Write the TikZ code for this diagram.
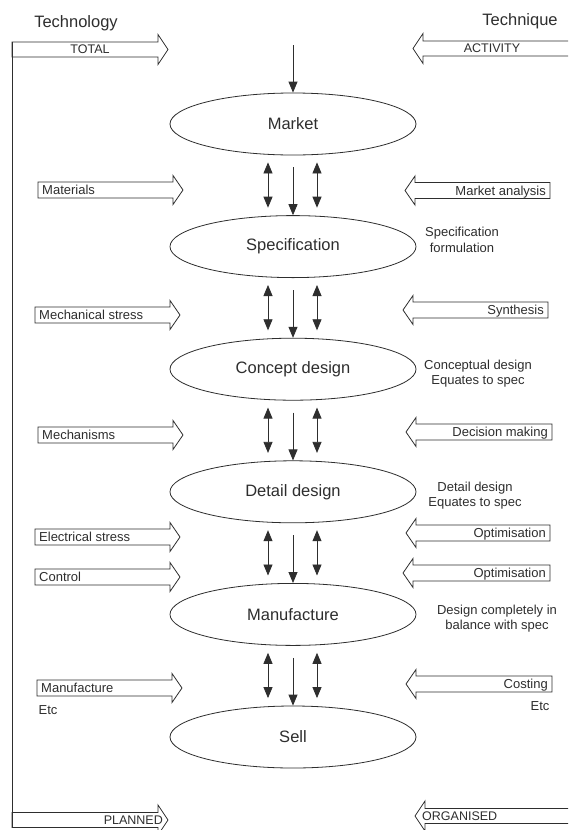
\documentclass[tikz,border=0pt]{standalone}
\usepackage{fontspec}
\setmainfont{Liberation Sans}
\usetikzlibrary{shapes.geometric,arrows.meta}

\definecolor{ink}{HTML}{2E2E2E}

\tikzset{
  stage/.style={ellipse, draw=ink, line width=0.8pt, minimum width=246pt,
    minimum height=62pt, inner sep=0pt, text=ink,
    font=\fontsize{16.5}{19}\selectfont},
  flow/.style={draw=ink, line width=0.8pt, -{Triangle[width=9pt,length=11pt]}},
  twoway/.style={draw=ink, line width=0.8pt,
    {Triangle[width=9pt,length=11pt]}-{Triangle[width=9pt,length=11pt]}},
  blockarrow/.style={draw=ink, line width=0.8pt, line join=miter},
  tag/.style={inner sep=0pt, text=ink, font=\fontsize{13}{15}\selectfont},
  captag/.style={inner sep=0pt, text=ink, font=\fontsize{12.5}{14}\selectfont},
  heading/.style={inner sep=0pt, text=ink, font=\fontsize{16.5}{19}\selectfont},
  note/.style={inner sep=0pt, text=ink, align=center,
    font=\fontsize{13}{15.5}\selectfont},
}

% block arrow pointing right: name, left x, tip x, centre y, label
\newcommand{\blockright}[5]{%
  \draw[blockarrow] (#2,#4-8) -- (#3-10,#4-8) -- (#3-10,#4-14.5) -- (#3,#4)
    -- (#3-10,#4+14.5) -- (#3-10,#4+8) -- (#2,#4+8) -- cycle;
  \node[tag,anchor=base west] (#1) at (#2+4,#4+4.6) {#5};}

% block arrow pointing left: name, right x, tip x, centre y, label
\newcommand{\blockleft}[5]{%
  \draw[blockarrow] (#2,#4-8) -- (#3+10,#4-8) -- (#3+10,#4-14.5) -- (#3,#4)
    -- (#3+10,#4+14.5) -- (#3+10,#4+8) -- (#2,#4+8) -- cycle;
  \node[tag,anchor=base east] (#1) at (#2-4,#4+4.6) {#5};}

\begin{document}
\begin{tikzpicture}[x=1pt,y=-1pt]
\useasboundingbox[fill=white] (0,0) rectangle (568,830);

% headings
\node[heading] (tech) at (76,23) {Technology};
\node[heading] (techq) at (520,21) {Technique};

% frame line on the left
\draw[ink, line width=0.8pt] (12,42) -- (12,828);

% TOTAL / PLANNED (pointing right)
\draw[blockarrow] (12,42) -- (158,42) -- (158,34.5) -- (168,49.5) -- (158,64.5)
  -- (158,57) -- (12,57) -- cycle;
\node[captag] (total) at (90,49.5) {TOTAL};
\draw[blockarrow] (12,812.5) -- (158,812.5) -- (158,805) -- (168,820) -- (158,835)
  -- (158,827.5) -- (12,827.5) -- cycle;
\node[captag,anchor=base east] (planned) at (163,824.5) {PLANNED};

% ACTIVITY / ORGANISED (pointing left, running off to the right)
\draw[blockarrow] (568,41) -- (423,41) -- (423,33.5) -- (413,48.5) -- (423,63.5)
  -- (423,56) -- (568,56);
\node[captag] (activity) at (492,48.5) {ACTIVITY};
\draw[blockarrow] (568,808.5) -- (425,808.5) -- (425,801) -- (415,816) -- (425,831)
  -- (425,823.5) -- (568,823.5);
\node[captag,anchor=base west] (organised) at (422,820.5) {ORGANISED};

% stages
\node[stage] (m1) at (293,124) {Market};
\node[stage] (m2) at (293,246.6) {Specification};
\node[stage] (m3) at (293,369.2) {Concept design};
\node[stage] (m4) at (293,491.8) {Detail design};
\node[stage] (m5) at (293,614.4) {Manufacture};
\node[stage] (m6) at (293,737) {Sell};

% flow between stages
\coordinate (start) at (293,45);
\draw[flow] (start) -- (m1.north);
\foreach \a/\b in {m1/m2,m2/m3,m3/m4,m4/m5,m5/m6}{
  \draw[flow] ([yshift=-12pt]\a.south) -- (\b.north);
  \draw[twoway] ([shift={(-25pt,-7pt)}]\a.south) -- ([shift={(-25pt,7.5pt)}]\b.north);
  \draw[twoway] ([shift={(24pt,-7pt)}]\a.south) -- ([shift={(24pt,7.5pt)}]\b.north);
}

% technology inputs
\blockright{materials}{38}{183}{190}{Materials}
\blockright{mechstress}{35}{180}{315}{Mechanical stress}
\blockright{mechanisms}{38}{183}{435}{Mechanisms}
\blockright{elecstress}{35}{180}{537}{Electrical stress}
\blockright{control}{35}{180}{577}{Control}
\blockright{manufacture}{37}{182}{688}{Manufacture}
\node[tag] (etcleft) at (48,710) {Etc};

% technique inputs
\blockleft{marketan}{550}{405}{190.5}{Market analysis}
\blockleft{synthesis}{548}{403}{310}{Synthesis}
\blockleft{decision}{552}{406}{432}{Decision making}
\blockleft{optimA}{550}{406}{533}{Optimisation}
\blockleft{optimB}{550}{403}{573}{Optimisation}
\blockleft{costing}{552}{406}{684}{Costing}
\node[tag] (etcright) at (540,706) {Etc};

% stage notes
\node[note] (n2) at (462,240) {Specification\\formulation};
\node[note] (n3) at (478,373.5) {Conceptual design\\Equates to spec};
\node[note] (n4) at (475,495.5) {Detail design\\Equates to spec};
\node[note] (n5) at (497,618.5) {Design completely in\\balance with spec};
\end{tikzpicture}
\end{document}
